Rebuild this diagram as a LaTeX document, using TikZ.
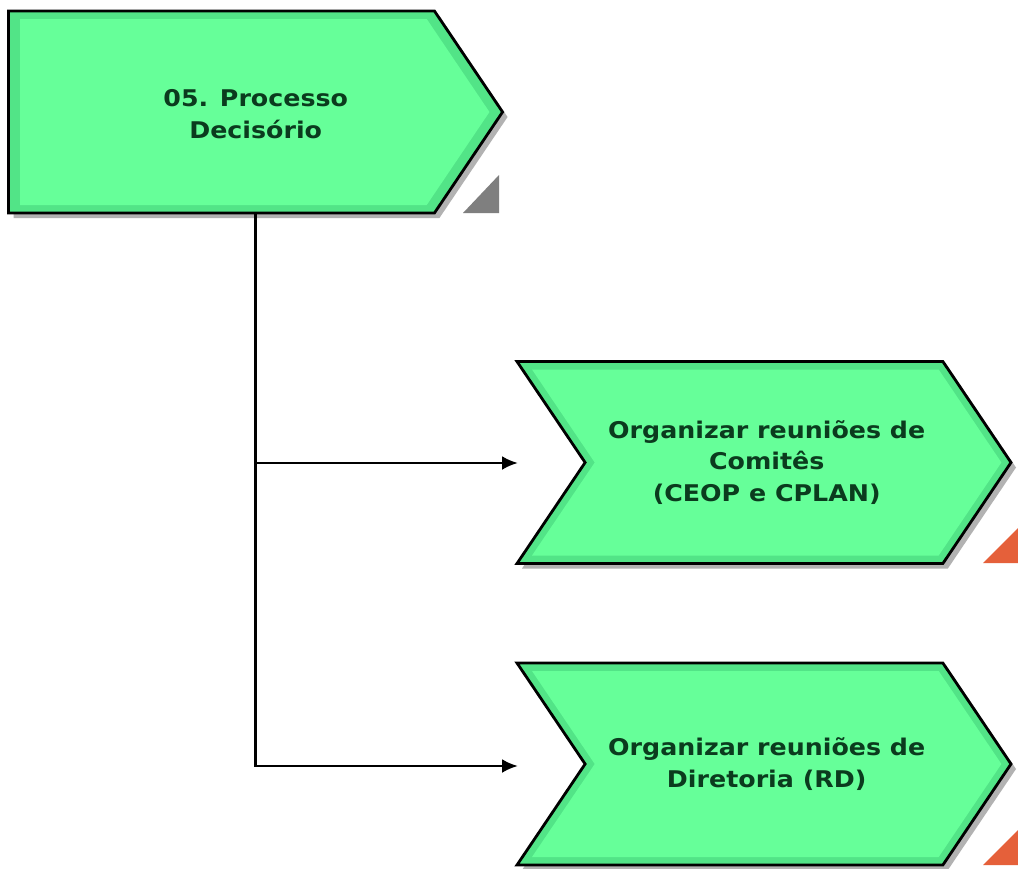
\documentclass[tikz,border=0pt]{standalone}
\usepackage{fontspec}
\setsansfont{DejaVu Sans}[FakeStretch=1.1]
\usetikzlibrary{arrows.meta, shapes.symbols, shadows, calc}
\definecolor{procgreen}{HTML}{66FF99}
\definecolor{procedge}{HTML}{52E487}
\definecolor{proctext}{HTML}{0B3B1E}
\definecolor{markred}{HTML}{E5603A}
\definecolor{markgray}{HTML}{7F7F7F}
\tikzset{
    x=0.5pt,
    y=-0.5pt,
    font=\sffamily\bfseries\fontsize{11.5}{15.8}\selectfont,
    proc_step/.style={
        signal,
        signal to=east,
        signal pointer angle=112,
        draw=black,
        line width=1.4pt,
        fill=procedge,
        text=proctext,
        align=center,
        minimum width=247pt,
        minimum height=101pt,
        inner sep=0pt,
        drop shadow={shadow xshift=2.5pt, shadow yshift=-2.5pt, fill=black!30, opacity=1}
    },
    proc_sub/.style={
        proc_step,
        signal from=west
    },
    proc_face/.style={
        signal,
        signal to=east,
        signal pointer angle=112,
        fill=procgreen,
        text=proctext,
        align=center,
        minimum width=234.7pt,
        minimum height=93pt,
        inner sep=0pt
    },
    proc_subface/.style={
        proc_face,
        signal from=west
    },
    proc_flow/.style={
        -{Latex[length=8pt, width=7pt]},
        line width=1.4pt
    },
    proc_mark/.style={
        fill=#1
    }
}

\begin{document}
\begin{tikzpicture}

\fill[white] (0,0) rectangle (1018,868);
\useasboundingbox (0,0) rectangle (1018,868);

% --- Process and sub-processes ---
\node[proc_step] (Decisorio) at (221.5,112) {};
\node[proc_face] (DecisorioFace) at ($(Decisorio.center)+(1.9,0)$) {};
\coordinate (DecisorioMid) at ($(Decisorio.west)!0.5!(Decisorio.east)$);
\node[text=proctext, align=center, inner sep=0pt] (DecisorioText) at ($(DecisorioMid)+(0,2)$) {05. Processo\\Decisório};

\node[proc_sub] (Comites) at (764,462.5) {};
\node[proc_subface] (ComitesFace) at ($(Comites.center)+(2.7,0)$) {Organizar reuniões de\\Comitês\\(CEOP e CPLAN)};

\node[proc_sub] (Diretoria) at (764,764) {};
\node[proc_subface] (DiretoriaFace) at ($(Diretoria.center)+(2.7,0)$) {Organizar reuniões de\\Diretoria (RD)};

% --- Assignment markers ---
\fill[proc_mark=markgray] (463,213) -- (499,213) -- (499,175) -- cycle;
\fill[proc_mark=markred] (983,563) -- (1022,563) -- (1022,524) -- cycle;
\fill[proc_mark=markred] (983,865) -- (1022,865) -- (1022,826) -- cycle;

% --- Edges ---
\coordinate (inComites) at (518,463);
\coordinate (inDiretoria) at (518,766);
\draw[proc_flow] (DecisorioMid |- Decisorio.south) |- (inDiretoria);
\draw[proc_flow] (DecisorioMid |- inComites) -- (inComites);

\end{tikzpicture}
\end{document}
